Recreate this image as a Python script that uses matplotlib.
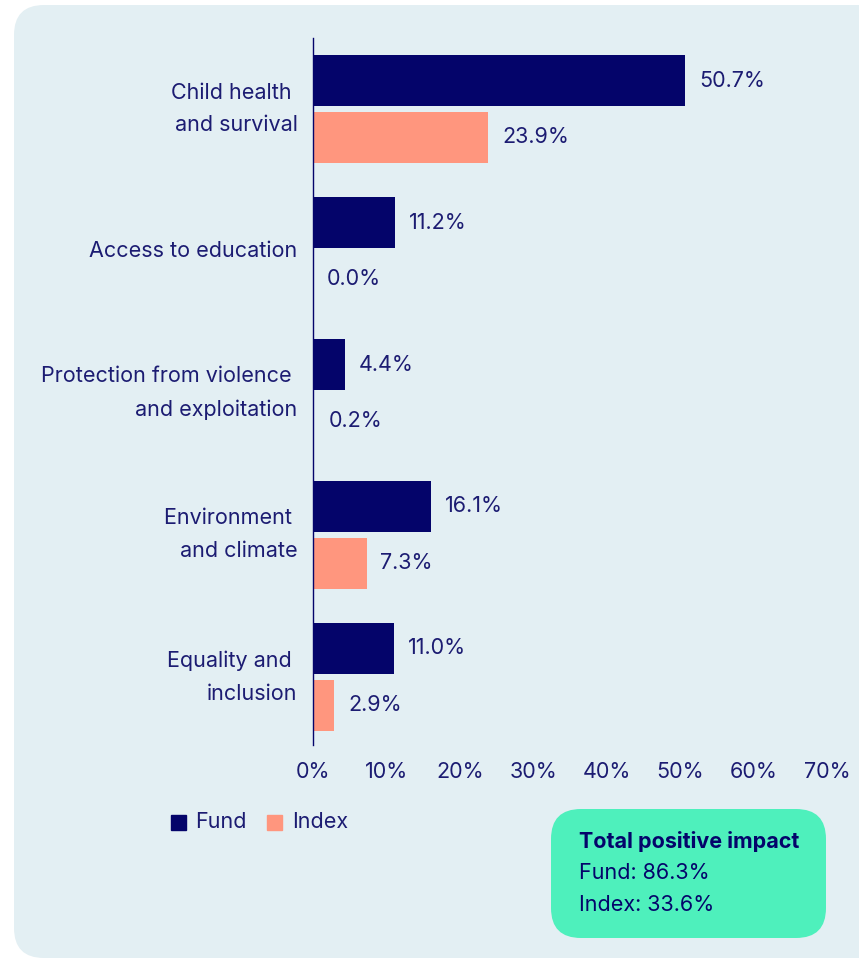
import matplotlib.pyplot as plt
from matplotlib.patches import FancyBboxPatch, Rectangle
import numpy as np

# impact themes and shares of holdings (%)
themes = ["Child health \nand survival", "Access to education",
          "Protection from violence \nand exploitation",
          "Environment \nand climate", "Equality and \ninclusion"]
fund = [50.7, 11.2, 4.4, 16.1, 11.0]
index = [23.9, 0.0, 0.2, 7.3, 2.9]
ticks = [0, 10, 20, 30, 40, 50, 60, 70]
total_fund = 86.3
total_index = 33.6

NAVY = "#04046a"
SALMON = "#ff967e"
TEXT = "#1c1c72"
PANEL = "#e3eff3"
GREEN = "#4ef0bc"
FS = 15.5

plt.rcParams['font.family'] = ['Inter', 'DejaVu Sans']

W, H = 859, 960
fig = plt.figure(figsize=(W / 100, H / 100), dpi=100)
fig.patch.set_facecolor("white")


def px_box(x0, y0, x1, y1, color, r):
    # rounded box given in pixel coords from the top-left corner
    return FancyBboxPatch((x0 / W, 1 - y1 / H), (x1 - x0) / W, (y1 - y0) / H,
                          boxstyle=f"round,pad=0,rounding_size={r / W}",
                          mutation_aspect=W / H, transform=fig.transFigure,
                          facecolor=color, edgecolor="none", zorder=-5)


# rounded background panel
fig.patches.append(px_box(14, 5, 900, 958, PANEL, 30))

ax = fig.add_axes([313 / W, 215 / H, 514 / W, 707 / H])
ax.set_facecolor("none")
ax.set_zorder(3)

y = np.arange(len(themes))
h = 0.36
off = 0.2
ax.barh(y - off, fund, height=h, color=NAVY, zorder=2)
ax.barh(y + off, index, height=h, color=SALMON, zorder=2)

for yi, v in zip(y - off, fund):
    ax.annotate(f"{v:.1f}%", (v, yi), xytext=(10, 0), textcoords="offset points",
                va="center", ha="left", color=TEXT, fontsize=FS)
for yi, v in zip(y + off, index):
    ax.annotate(f"{v:.1f}%", (v, yi), xytext=(10, 0), textcoords="offset points",
                va="center", ha="left", color=TEXT, fontsize=FS)

ax.set_xlim(0, 70)
ax.set_ylim(4.48, -0.5)
ax.set_xticks(ticks)
ax.set_xticklabels([f"{t}%" for t in ticks], color=TEXT, fontsize=FS)
ax.set_yticks(y)
ax.set_yticklabels(themes, color=TEXT, fontsize=FS, linespacing=1.8)
for lab in ax.get_yticklabels():
    lab.set_va("center")
ax.tick_params(axis="both", length=0)
ax.tick_params(axis="y", pad=11)
ax.tick_params(axis="x", pad=12)
for s in ["top", "right", "bottom"]:
    ax.spines[s].set_visible(False)
ax.spines["left"].set_color(NAVY)
ax.spines["left"].set_linewidth(1.0)

# legend drawn by hand as squares + text
ly = 1 - 822 / H
sq_w, sq_h = 15 / W, 15 / H
fig.patches.append(Rectangle((171 / W, ly - sq_h / 2), sq_w, sq_h,
                             transform=fig.transFigure, color=NAVY))
fig.text(195 / W, ly, "Fund", va="center", ha="left", color=TEXT, fontsize=FS)
fig.patches.append(Rectangle((267 / W, ly - sq_h / 2), sq_w, sq_h,
                             transform=fig.transFigure, color=SALMON))
fig.text(292 / W, ly, "Index", va="center", ha="left", color=TEXT, fontsize=FS)

# total impact box
fig.patches.append(px_box(551, 809, 826, 938, GREEN, 30))
fig.text(579 / W, 1 - 842 / H, "Total positive impact", va="center", ha="left",
         color=NAVY, fontsize=FS, fontweight="bold")
fig.text(579 / W, 1 - 873 / H, f"Fund: {total_fund:.1f}%", va="center", ha="left",
         color=NAVY, fontsize=FS)
fig.text(579 / W, 1 - 905 / H, f"Index: {total_index:.1f}%", va="center", ha="left",
         color=NAVY, fontsize=FS)

fig.savefig("out.png", dpi=100, facecolor=fig.get_facecolor())
